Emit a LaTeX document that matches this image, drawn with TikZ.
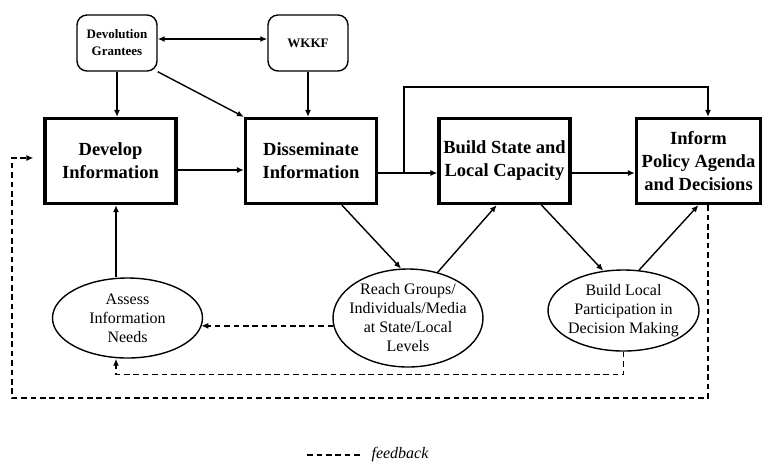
\documentclass[tikz,border=0pt]{standalone}
\usepackage{fontspec}
\setmainfont{Liberation Serif}
\usetikzlibrary{shapes.geometric,arrows.meta}
\begin{document}
\begin{tikzpicture}[x=0.5pt,y=-0.5pt,line width=0.7pt,
                >={Latex[length=3.5pt,width=3pt]},
                stage/.style={draw,line width=1.6pt,minimum width=65.5pt,minimum height=42.5pt,
                    inner sep=1pt,align=center,font=\fontsize{9.25}{11.5}\selectfont\bfseries},
                partner/.style={draw,rounded corners=5pt,minimum width=40pt,minimum height=28pt,
                    inner sep=1pt,align=center,font=\fontsize{6.5}{8.5}\selectfont\bfseries},
                activity/.style={draw,ellipse,inner sep=-3pt,minimum width=75pt,minimum height=40pt,
                    align=center,font=\fontsize{8}{9.5}\selectfont},
                fb/.style={dash pattern=on 2.8pt off 1.9pt}]
                \useasboundingbox (0,0) rectangle (762,463);
                \node (dg) [partner] at (117,43) {Devolution\\Grantees};
                \node (wk) [partner] at (308,43) {WKKF};
                \node (dev) [stage] at (110.5,161) {Develop\\Information};
                \node (dis) [stage] at (311,161) {Disseminate\\Information};
                \node (bsl) [stage] at (504.5,161) {Build State and\\Local Capacity};
                \node (ipa) [stage,minimum width=62pt] at (698.5,161) {Inform\\Policy Agenda\\and Decisions};
                \node (ain) [activity] at (127.5,318) {Assess\\Information\\Needs};
                \node (rg) [activity,minimum height=49pt] at (408,318) {Reach Groups/\\Individuals/Media\\at State/Local\\Levels};
                \node (blp) [activity,minimum width=75.5pt,minimum height=40.5pt] at (623.5,310.5) {Build Local\\Participation in\\Decision Making};
                \coordinate (ax) at (116,0);
                \coordinate (tp) at (708,87);
                \coordinate (fbl) at (12,398);
                \draw[<->] ([yshift=2pt]dg.east) -- ([yshift=2pt]wk.west);
                \draw[->] (dg.south) -- (dg.south |- dev.north);
                \draw[->] (dg.south east) -- (dis.north west);
                \draw[->] (wk.south) -- (wk.south |- dis.north);
                \draw[->] ([yshift=-4.5pt]dev.east) -- ([yshift=-4.5pt]dis.west);
                \draw[->] ([yshift=-6pt]dis.east) -- ([yshift=-6pt]bsl.west);
                \draw[->] ([yshift=-6pt]bsl.east) -- ([yshift=-6pt]ipa.west);
                \draw[->] ([yshift=-6pt,xshift=13pt]dis.east) |- (tp) -- (tp |- ipa.north);
                \draw[->] (ain.north -| ax) -- (ax |- dev.south);
                \draw[->] (dis.305) -- (rg.98);
                \draw[->] (rg.57) -- (bsl.260);
                \draw[->] (bsl.310) -- (blp.117);
                \draw[->] (blp.69) -- (ipa.south);
                % feedback
                \draw[fb,->] (rg.186) -- (rg.186 -| ain.-7);
                \draw[fb,->] (blp.south) -- ++(0,23) -| (ain.south -| ax);
                \draw[fb,->] (tp |- ipa.south) |- (fbl) |- ([xshift=-5pt,yshift=1.5pt]dev.west);
                \node (fbk) at (400,455) {\fontsize{8}{9.5}\selectfont\itshape feedback};
                \draw[fb] ([xshift=-28.5pt]fbk.west) -- ([xshift=-1.5pt]fbk.west);
            \end{tikzpicture}
\end{document}
